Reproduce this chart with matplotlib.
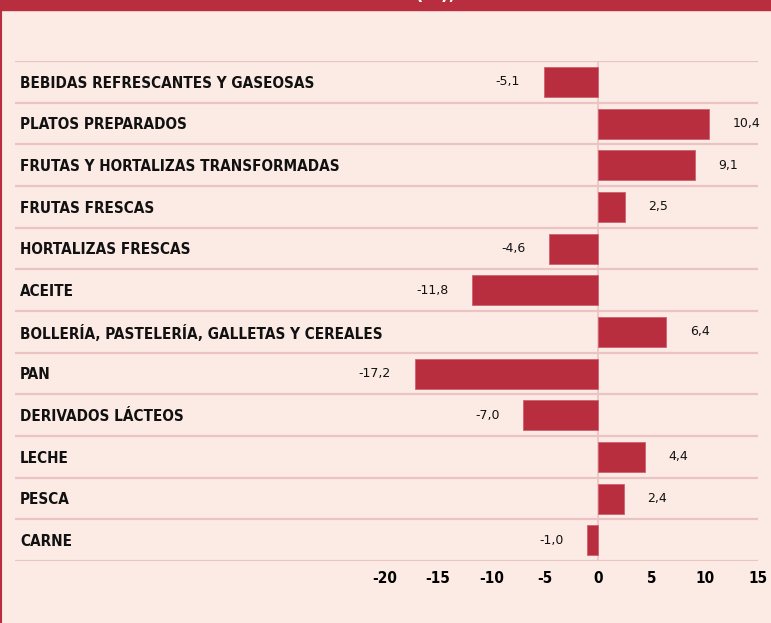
import matplotlib.pyplot as plt
from matplotlib.patches import Rectangle
from matplotlib.lines import Line2D

# data
categorias = ['BEBIDAS REFRESCANTES Y GASEOSAS', 'PLATOS PREPARADOS',
              'FRUTAS Y HORTALIZAS TRANSFORMADAS', 'FRUTAS FRESCAS',
              'HORTALIZAS FRESCAS', 'ACEITE',
              'BOLLERÍA, PASTELERÍA, GALLETAS Y CEREALES', 'PAN',
              'DERIVADOS LÁCTEOS', 'LECHE', 'PESCA', 'CARNE']
valores = [-5.1, 10.4, 9.1, 2.5, -4.6, -11.8, 6.4, -17.2, -7.0, 4.4, 2.4, -1.0]
ticks = [-20, -15, -10, -5, 0, 5, 10, 15]

fondo = '#fcebe5'
rojo = '#b82e3e'
linea = '#ecc3c3'
cond = 'DejaVu Sans'

W, H = 771, 623
fig = plt.figure(figsize=(W / 100, H / 100), dpi=100, facecolor=fondo)

# red band on top and left border
fig.patches.append(Rectangle((0, 1 - 10 / H), 1, 10 / H, transform=fig.transFigure,
                             color=rojo, zorder=0))
fig.lines.append(Line2D([0.8 / W, 0.8 / W], [0, 1 - 10 / H], transform=fig.transFigure,
                        color=rojo, lw=1.5))
fig.text(10 / W, 1 - 3 / H, 'VARIACIÓN EN EL CONSUMO PER CÁPITA (%), 2015', color='white',
         fontsize=14, fontweight='bold', family=cond, stretch='condensed',
         va='bottom', ha='left')

ax = fig.add_axes([15 / W, 1 - 561 / H, (758 - 15) / W, (561 - 61) / H])
ax.set_facecolor(fondo)
for s in ax.spines.values():
    s.set_visible(False)

y = list(range(len(categorias)))
ax.barh(y, valores, height=0.72, color=rojo, edgecolor='#d06070', linewidth=0.6, zorder=3)

for i in range(len(categorias) + 1):
    ax.axhline(i - 0.5, color=linea, lw=1.6, zorder=1)
ax.axvline(0, color=linea, lw=1.2, zorder=2)

for yi, nombre, v in zip(y, categorias, valores):
    ax.text(0.007, yi + 0.03, nombre, transform=ax.get_yaxis_transform(), va='center',
            ha='left', fontsize=11, fontweight='bold', family=cond, stretch='condensed',
            color='#111111')
    txt = f'{v:.1f}'.replace('.', ',')
    if v < 0:
        ax.text(v - 2.2, yi, txt, va='center', ha='right', fontsize=9, color='#111111')
    else:
        ax.text(v + 2.2, yi, txt, va='center', ha='left', fontsize=9, color='#111111')

ax.set_xlim(-54.65, 15)
ax.set_ylim(len(categorias) - 0.5, -0.5)
ax.set_yticks([])
ax.set_xticks(ticks)
ax.set_xticklabels([str(t) for t in ticks], family=cond, stretch='condensed',
                   fontsize=11, fontweight='bold')
ax.tick_params(axis='x', length=0, pad=7)

fig.savefig('out.png', dpi=100, facecolor=fondo)
